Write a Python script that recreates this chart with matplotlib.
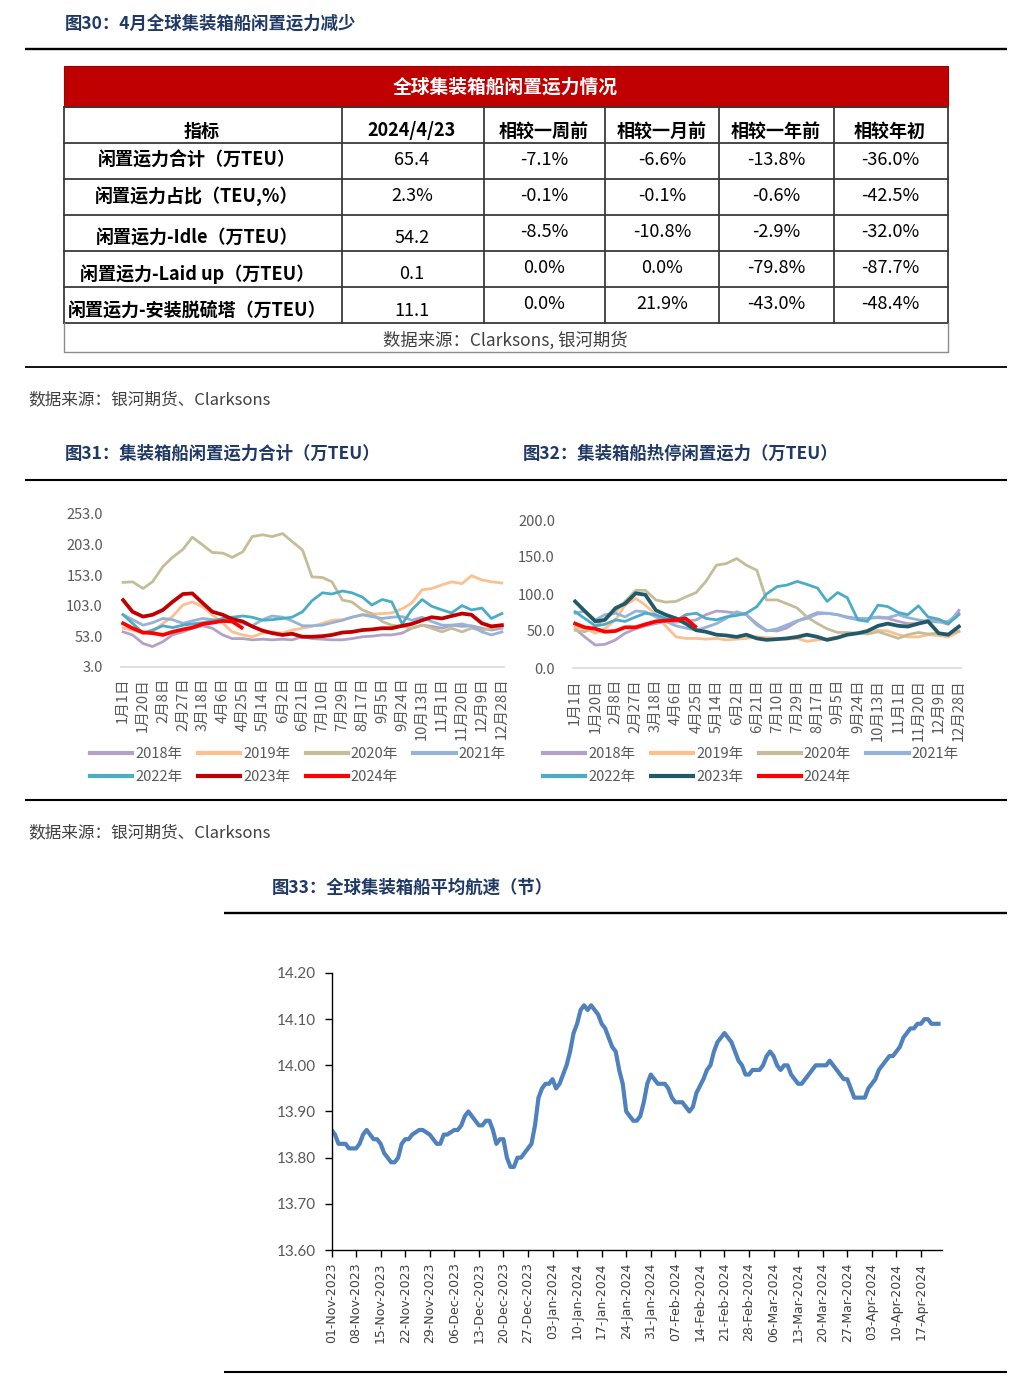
import numpy as np
import matplotlib
matplotlib.use('Agg')
import matplotlib.pyplot as plt
import matplotlib.dates as mdates
from matplotlib.patches import Rectangle
from matplotlib.ticker import FormatStrFormatter
from datetime import datetime, timedelta

plt.rcParams['font.family'] = ['Noto Sans CJK SC', 'DejaVu Sans']

# ---------------- data ----------------
table_title = '全球集装箱船闲置运力情况'
table_columns = ['指标', '2024/4/23', '相较一周前', '相较一月前', '相较一年前', '相较年初']
table_rows = ['闲置运力合计（万TEU）', '闲置运力占比（TEU,%）', '闲置运力-Idle（万TEU）',
              '闲置运力-Laid up（万TEU）', '闲置运力-安装脱硫塔（万TEU）']
latest_values = ['65.4', '2.3%', '54.2', '0.1', '11.1']
chg_week = ['-7.1%', '-0.1%', '-8.5%', '0.0%', '0.0%']
chg_month = ['-6.6%', '-0.1%', '-10.8%', '0.0%', '21.9%']
chg_year = ['-13.8%', '-0.6%', '-2.9%', '-79.8%', '-43.0%']
chg_ytd = ['-36.0%', '-42.5%', '-32.0%', '-87.7%', '-48.4%']
table_source = '数据来源：Clarksons, 银河期货'

title30 = '图30：4月全球集装箱船闲置运力减少'
title31 = '图31：集装箱船闲置运力合计（万TEU）'
title32 = '图32：集装箱船热停闲置运力（万TEU）'
title33 = '图33：全球集装箱船平均航速（节）'
source_text = '数据来源：银河期货、Clarksons'

season_tick_labels = ['1月1日', '1月20日', '2月8日', '2月27日', '3月18日', '4月6日', '4月25日',
                      '5月14日', '6月2日', '6月21日', '7月10日', '7月29日', '8月17日', '9月5日',
                      '9月24日', '10月13日', '11月1日', '11月20日', '12月9日', '12月28日']
years = ['2018', '2019', '2020', '2021', '2022', '2023', '2024']

# day-of-year sample points
season_days = [0, 9, 19, 28, 38, 47, 57, 66, 76, 85, 95, 104, 114, 123, 133, 142, 152, 161, 171,
               180, 190, 199, 209, 218, 228, 237, 247, 256, 266, 275, 285, 294, 304, 313, 323,
               332, 342, 351, 361]
days_2024 = [0, 9, 19, 28, 38, 47, 57, 66, 76, 85, 95, 104, 113]

# Fig 31: total idle capacity (10k TEU)
total_2018 = [60, 55, 41, 36, 44, 55, 60, 66, 70, 66, 55, 49, 49, 47, 48, 47, 48, 47, 52,
              49, 48, 47, 47, 49, 52, 53, 55, 55, 58, 66, 71, 69, 66, 71, 69, 70, 66, 63, 66]
total_2019 = [66, 63, 58, 60, 74, 85, 104, 109, 101, 88, 74, 60, 55, 52, 58, 60, 58, 63, 66,
              69, 74, 79, 80, 84, 88, 89, 90, 91, 98, 107, 129, 131, 137, 142, 139, 152, 145, 142, 140]
total_2020 = [141, 142, 131, 142, 167, 182, 195, 215, 202, 190, 189, 182, 191, 216, 219, 216, 221, 208, 194,
              150, 149, 142, 112, 109, 96, 90, 77, 71, 69, 66, 71, 66, 60, 66, 60, 66, 63, 66, 69]
total_2021 = [88, 80, 71, 75, 82, 80, 74, 78, 82, 80, 77, 80, 74, 70, 80, 86, 84, 78, 70,
              70, 71, 75, 79, 84, 88, 85, 82, 84, 85, 79, 84, 77, 71, 71, 73, 69, 60, 55, 60]
total_2022 = [88, 74, 58, 63, 70, 67, 71, 73, 75, 78, 82, 84, 86, 84, 79, 80, 82, 84, 93,
              111, 124, 122, 127, 124, 117, 104, 113, 109, 73, 96, 113, 102, 96, 91, 103, 96, 99, 82, 90]
total_2023 = [112, 93, 85, 88, 96, 109, 122, 123, 107, 93, 88, 81, 77, 69, 62, 58, 55, 57, 52,
              52, 53, 55, 59, 60, 63, 64, 66, 66, 70, 73, 79, 84, 82, 86, 90, 88, 74, 69, 71]
total_2024 = [74, 66, 59, 58, 55, 60, 64, 67, 73, 75, 78, 77, 67]

# Fig 32: idle (hot lay-up) capacity (10k TEU)
idle_2018 = [53, 42, 31, 32, 38, 47, 53, 57, 60, 63, 62, 63, 65, 72, 77, 76, 74, 72, 60,
             51, 50, 54, 63, 69, 75, 74, 72, 69, 67, 67, 68, 67, 63, 60, 60, 65, 63, 59, 78]
idle_2019 = [55, 54, 47, 53, 65, 85, 94, 85, 72, 57, 42, 40, 40, 39, 40, 38, 39, 40, 42,
             41, 40, 39, 40, 36, 38, 39, 42, 45, 47, 47, 51, 50, 45, 42, 42, 45, 44, 42, 49]
idle_2020 = [51, 49, 56, 67, 76, 90, 105, 105, 92, 89, 90, 96, 102, 117, 139, 141, 148, 139, 132,
             92, 92, 87, 81, 69, 60, 53, 48, 48, 47, 46, 49, 45, 40, 45, 48, 46, 47, 46, 50]
idle_2021 = [74, 77, 65, 72, 74, 69, 77, 76, 69, 63, 57, 54, 51, 55, 60, 67, 76, 72, 58,
             50, 53, 58, 64, 67, 73, 74, 72, 68, 65, 67, 69, 68, 72, 68, 65, 63, 62, 63, 74]
idle_2022 = [76, 67, 57, 59, 65, 63, 69, 74, 72, 67, 64, 72, 74, 67, 65, 69, 71, 74, 83,
             100, 110, 112, 117, 113, 108, 90, 102, 95, 65, 63, 85, 83, 75, 72, 84, 69, 66, 60, 72]
idle_2023 = [90, 77, 63, 65, 81, 87, 101, 99, 78, 72, 67, 60, 51, 49, 45, 44, 42, 45, 40,
             38, 39, 40, 42, 45, 42, 38, 41, 45, 47, 50, 57, 60, 57, 56, 60, 63, 47, 45, 56]
idle_2024 = [60, 55, 53, 49, 50, 55, 55, 59, 63, 64, 65, 67, 56]

# Fig 33: average speed (knots), days since 2023-11-01
speed_start = '2023-11-01'
speed_day = [0, 1, 2, 4, 5, 7, 8, 9, 10, 11, 12, 13, 14, 15, 17, 18, 19, 20, 21, 22, 23, 25, 26, 28,
             29, 30, 31, 32, 33, 35, 36, 37, 38, 39, 40, 41, 42, 43, 44, 45, 46, 47, 48, 49, 50, 51,
             52, 53, 54, 56, 57, 58, 59, 60, 61, 62, 63, 64, 65, 66, 67, 68, 69, 70, 71, 72, 73, 74,
             75, 76, 77, 78, 79, 80, 81, 82, 83, 84, 85, 86, 87, 88, 89, 90, 91, 92, 93, 94, 95, 96,
             97, 98, 99, 100, 101, 102, 103, 104, 106, 107, 108, 109, 110, 111, 112, 113, 114, 115,
             116, 117, 118, 119, 120, 122, 123, 124, 125, 126, 127, 128, 129, 130, 131, 132, 133,
             134, 135, 136, 137, 138, 140, 141, 142, 143, 144, 145, 146, 147, 148, 149, 150, 152,
             153, 154, 155, 156, 157, 158, 159, 160, 161, 162, 163, 164, 165, 166, 167, 168, 169,
             170, 171, 172, 173]
speed_value = [13.86, 13.85, 13.83, 13.83, 13.82, 13.82, 13.83, 13.85, 13.86, 13.85, 13.84, 13.84,
               13.83, 13.81, 13.79, 13.79, 13.80, 13.83, 13.84, 13.84, 13.85, 13.86, 13.86, 13.85,
               13.84, 13.83, 13.83, 13.85, 13.85, 13.86, 13.86, 13.87, 13.89, 13.90, 13.89, 13.88,
               13.87, 13.87, 13.88, 13.88, 13.86, 13.83, 13.84, 13.84, 13.80, 13.78, 13.78, 13.80,
               13.80, 13.82, 13.83, 13.87, 13.93, 13.95, 13.96, 13.96, 13.97, 13.95, 13.96, 13.98,
               14.00, 14.03, 14.07, 14.09, 14.12, 14.13, 14.12, 14.13, 14.12, 14.11, 14.09, 14.08,
               14.06, 14.04, 14.03, 13.99, 13.96, 13.90, 13.89, 13.88, 13.88, 13.89, 13.92, 13.96,
               13.98, 13.97, 13.96, 13.96, 13.96, 13.95, 13.93, 13.92, 13.92, 13.92, 13.91, 13.90,
               13.91, 13.94, 13.97, 13.99, 14.00, 14.03, 14.05, 14.06, 14.07, 14.06, 14.05, 14.03,
               14.01, 14.00, 13.98, 13.98, 13.99, 13.99, 14.00, 14.02, 14.03, 14.02, 14.00, 13.99,
               14.00, 14.00, 13.98, 13.97, 13.96, 13.96, 13.97, 13.98, 13.99, 14.00, 14.00, 14.00,
               14.01, 14.00, 13.99, 13.98, 13.97, 13.97, 13.95, 13.93, 13.93, 13.93, 13.95, 13.96,
               13.97, 13.99, 14.00, 14.01, 14.02, 14.02, 14.03, 14.04, 14.06, 14.07, 14.08, 14.08,
               14.09, 14.09, 14.10, 14.10, 14.09, 14.09, 14.09]
speed_yticks = [13.60, 13.70, 13.80, 13.90, 14.00, 14.10, 14.20]

# ---------------- figure ----------------
W, H = 1025, 1398
fig = plt.figure(figsize=(W / 100, H / 100), dpi=100)
fig.patch.set_facecolor('white')


def rect(l, t, r, b):
    return [l / W, 1 - b / H, (r - l) / W, (b - t) / H]


ov = fig.add_axes([0, 0, 1, 1])
ov.set_xlim(0, W)
ov.set_ylim(H, 0)
ov.axis('off')

NAVY = '#1F3864'
GREY_TXT = '#404040'


def rule(x0, x1, y, lw=1.5):
    ov.plot([x0, x1], [y, y], color='black', lw=lw, solid_capstyle='butt')


# headings and rules
ov.text(65, 24, title30, fontsize=12.5, fontweight='bold', color=NAVY, va='center', ha='left')
rule(25, 1007, 49, 1.7)
rule(25, 1007, 367, 1.3)
ov.text(28, 400, source_text, fontsize=12, color=GREY_TXT, va='center', ha='left')
ov.text(65, 454, title31, fontsize=12.5, fontweight='bold', color=NAVY, va='center', ha='left')
ov.text(523, 454, title32, fontsize=12.5, fontweight='bold', color=NAVY, va='center', ha='left')
rule(25, 1007, 480, 1.5)
rule(25, 1007, 800, 1.5)
ov.text(28, 833, source_text, fontsize=12, color=GREY_TXT, va='center', ha='left')
ov.text(272, 888, title33, fontsize=12.5, fontweight='bold', color=NAVY, va='center', ha='left')
rule(224, 1007, 913, 1.7)
rule(224, 1007, 1372, 1.5)

# ---------------- table ----------------
col_edges = [64, 342, 484, 605, 719, 834, 948]
row_edges = [107, 143, 179, 215, 251, 287, 323]
ov.add_patch(Rectangle((64, 66), 884, 41, facecolor='#C00000', edgecolor='#9E0000', lw=0.8))
ov.text(505, 87, table_title, color='white', fontsize=13.5, fontweight='bold', ha='center', va='center')
for y in row_edges:
    ov.plot([64, 948], [y, y], color='#3A3A3A', lw=1.3)
for x in col_edges:
    ov.plot([x, x], [107, 323], color='#3A3A3A', lw=1.3)
ov.plot([64, 64, 948, 948], [323, 352, 352, 323], color='#8C8C8C', lw=1.0)

col_centers = [202, 412, 544, 662, 776, 890]
for cx, lab in zip(col_centers, table_columns):
    ov.text(cx, 131, lab, fontsize=13, fontweight='bold', color='black', ha='center', va='center')

label_y = [160, 196, 238, 274, 311]
chg_y = [160, 196, 232, 268, 304]
for i, lab in enumerate(table_rows):
    ov.text(197, label_y[i], lab, fontsize=13, fontweight='bold', color='black', ha='center', va='center')
    ov.text(col_centers[1], label_y[i], latest_values[i], fontsize=13, color='black', ha='center', va='center')
    for j, col in enumerate([chg_week, chg_month, chg_year, chg_ytd]):
        ov.text(col_centers[2 + j], chg_y[i], col[i], fontsize=13, color='black', ha='center', va='center')
ov.text(505, 340, table_source, fontsize=12.5, color=GREY_TXT, ha='center', va='center')

# ---------------- seasonal charts ----------------
tick_days = [(datetime(2018, int(s.split('月')[0]), int(s.split('月')[1].rstrip('日')))
              - datetime(2018, 1, 1)).days for s in season_tick_labels]

base_colors = ['#B3A2C7', '#FAC090', '#C4BD97', '#95B3D7', '#4BACC6']


def seasonal(r, ylim, yticks, series, c2023, leg_xy):
    ax = fig.add_axes(r)
    colors = base_colors + [c2023, '#FF0000']
    widths = [2.0, 2.0, 2.0, 2.0, 2.0, 2.7, 2.7]
    lines = []
    for k, (yr, vals) in enumerate(zip(years, series)):
        d = days_2024 if yr == '2024' else season_days
        ln, = ax.plot(d, vals, color=colors[k], lw=widths[k], label=yr + '年',
                      solid_joinstyle='round', zorder=2 + k)
        lines.append(ln)
    ax.set_xlim(-2, 363)
    ax.set_ylim(*ylim)
    ax.set_yticks(yticks)
    ax.yaxis.set_major_formatter(FormatStrFormatter('%.1f'))
    ax.set_xticks(tick_days)
    ax.set_xticklabels(season_tick_labels, rotation=90)
    for s in ['top', 'right', 'left']:
        ax.spines[s].set_visible(False)
    ax.spines['bottom'].set_color('#D9D9D9')
    ax.spines['bottom'].set_linewidth(1.2)
    ax.tick_params(axis='both', length=0, labelsize=10.5, labelcolor='#595959')
    ax.tick_params(axis='y', pad=13)
    ax.tick_params(axis='x', pad=8)
    ax.patch.set_alpha(0)
    order = [0, 4, 1, 5, 2, 6, 3]
    leg = fig.legend([lines[i] for i in order], [lines[i].get_label() for i in order],
                     loc='upper left', bbox_to_anchor=(leg_xy[0] / W, 1 - leg_xy[1] / H),
                     ncol=4, frameon=False, fontsize=10.5, handlelength=2.9,
                     handletextpad=0.2, columnspacing=1.05, labelspacing=0.65,
                     borderpad=0, borderaxespad=0)
    for t in leg.get_texts():
        t.set_color('#595959')
    for h in leg.legend_handles:
        h.set_linewidth(3.0)
    return ax


seasonal(rect(121, 514, 504, 666.7), (3, 253), [3, 53, 103, 153, 203, 253],
         [total_2018, total_2019, total_2020, total_2021, total_2022, total_2023, total_2024],
         '#C00000', (90, 747))
seasonal(rect(573, 520, 961, 668), (0, 200), [0, 50, 100, 150, 200],
         [idle_2018, idle_2019, idle_2020, idle_2021, idle_2022, idle_2023, idle_2024],
         '#215968', (543, 747))

# ---------------- speed chart ----------------
start = datetime.strptime(speed_start, '%Y-%m-%d')
speed_dates = [start + timedelta(days=d) for d in speed_day]
ax3 = fig.add_axes(rect(331.5, 973, 942, 1250))
ax3.plot(speed_dates, speed_value, color='#4F81BD', lw=3.0, solid_joinstyle='round')
ax3.set_xlim(start, start + timedelta(days=174))
ax3.set_ylim(13.60, 14.20)
ax3.set_yticks(speed_yticks)
ax3.yaxis.set_major_formatter(FormatStrFormatter('%.2f'))
ax3.xaxis.set_major_formatter(mdates.DateFormatter('%d-%b-%Y'))
ax3.set_xticks([start + timedelta(days=7 * k) for k in range(25)])
for s in ['top', 'right']:
    ax3.spines[s].set_visible(False)
for s in ['left', 'bottom']:
    ax3.spines[s].set_color('black')
    ax3.spines[s].set_linewidth(1.0)
ax3.tick_params(axis='both', direction='out', length=5, width=1.0, color='black')
ax3.tick_params(axis='y', labelsize=11, labelcolor='#595959', pad=6)
ax3.tick_params(axis='x', labelsize=9, labelcolor='#404040', pad=4, labelrotation=90)
for t in ax3.get_yticklabels():
    t.set_fontfamily('Lato')
for t in ax3.get_xticklabels():
    t.set_fontfamily('DejaVu Sans')
ax3.patch.set_alpha(0)

fig.savefig('out.png', dpi=100, facecolor='white')
